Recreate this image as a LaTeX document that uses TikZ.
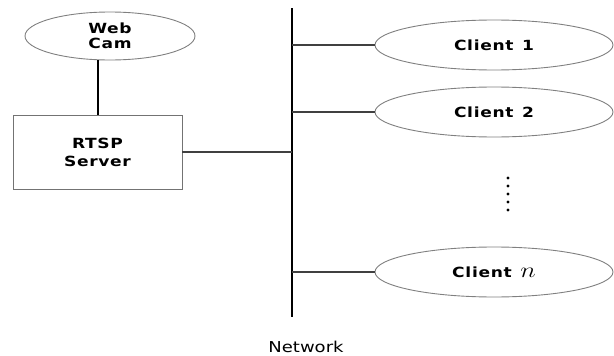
\documentclass[tikz,border=0pt]{standalone}
\usepackage{fontspec}
\setmainfont{DejaVu Sans}
\newfontfamily\labelfont[LetterSpace=4]{DejaVu Sans}
\usetikzlibrary{shapes.geometric}
% labels are set wide: stretched horizontally
\newcommand{\widetxt}[1]{\scalebox{1.22}[1]{#1}}
\begin{document}
\begin{tikzpicture}[x=1pt,y=-1pt,
  lbl/.style={font=\labelfont\bfseries\fontsize{14}{16}\selectfont},
  oval/.style={ellipse,draw=black!50,line width=0.9pt,inner sep=0pt,lbl},
  clientoval/.style={oval,minimum width=238pt,minimum height=50pt},
  serverbox/.style={rectangle,draw=black!55,line width=0.9pt,minimum width=169pt,minimum height=74pt,lbl,align=center},
  thin/.style={draw=black!75,line width=1.2pt},
  thick/.style={draw=black,line width=2pt},
  dot/.style={circle,fill=black,inner sep=0pt,minimum size=3.4pt}]
\useasboundingbox (0,0) rectangle (614,356);

% nodes
\node[oval,minimum width=170pt,minimum height=48pt,align=center] (cam) at (110,36) {\widetxt{Web}\\[-1pt]\widetxt{Cam}};
\node[serverbox] (srv) at (97.5,152) {\widetxt{RTSP}\\[2pt]\widetxt{Server}};
\coordinate (nettop) at (292,8);
\coordinate (netbot) at (292,317);
\node[clientoval] (c1) at (494,45) {\widetxt{Client\hspace{0.5em}1}};
\node[clientoval] (c2) at (494,112) {\widetxt{Client\hspace{0.5em}2}};
\node[clientoval] (cn) at (494,272) {\widetxt{Client\hspace{0.5em}\scalebox{1.5}{$n$}}};
\foreach \i/\y in {1/178,2/186,3/194,4/202,5/210}
  \node[dot] (d\i) at (508,\y) {};
\node[font=\fontsize{15}{17}\selectfont] (net) at (306,347) {\scalebox{1.2}[1]{Network}};

% connectors
\draw[thick] (nettop) -- (netbot);
\draw[thick] (srv.north) -- (srv.north |- cam.south);
\draw[thin] (srv.east) -- (srv.east -| nettop);
\draw[thin] (c1.west -| nettop) -- (c1.west);
\draw[thin] (c2.west -| nettop) -- (c2.west);
\draw[thin] (cn.west -| nettop) -- (cn.west);
\end{tikzpicture}
\end{document}
